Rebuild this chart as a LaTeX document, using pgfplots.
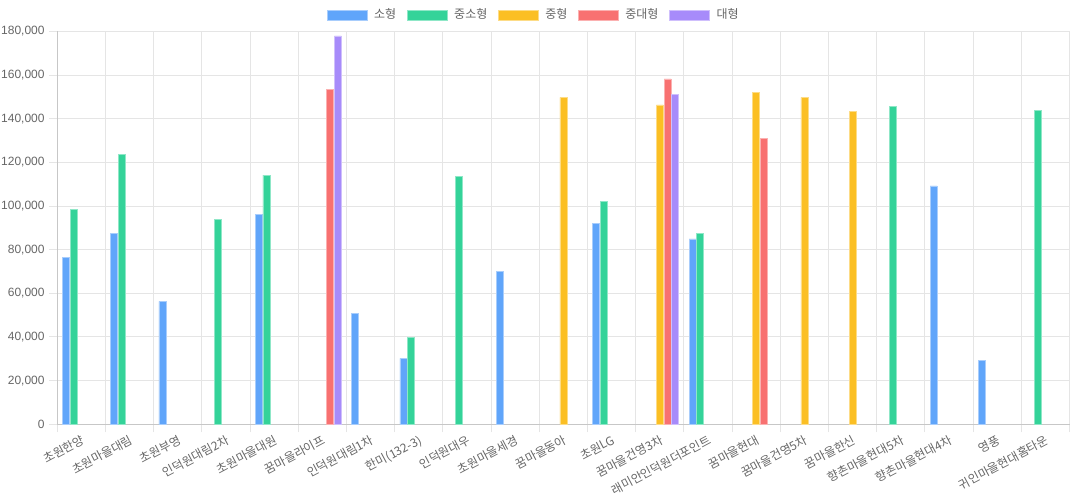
\documentclass[border=0pt]{standalone}
\usepackage{fontspec}
\setmainfont{Liberation Sans}
\newfontfamily\kr{Noto Sans CJK KR}
\usepackage{pgfplots}
\pgfplotsset{compat=1.18}
\definecolor{cBlue}{HTML}{60A5FA}
\definecolor{cGreen}{HTML}{34D399}
\definecolor{cYellow}{HTML}{FBBF24}
\definecolor{cRed}{HTML}{F87171}
\definecolor{cPurple}{HTML}{A78BFA}
\begin{document}
\begin{tikzpicture}
\begin{axis}[
  scale only axis, width=759.15pt, height=294.675pt,
  xmin=-0.5, xmax=20.5, ymin=0, ymax=180000,
  axis lines=left,
  axis line style={-, draw=black!22, line width=0.75pt},
  xtick={0,...,20},
  xticklabels={초원한양,초원마을대림,초원부영,인덕원대림2차,초원마을대원,꿈마을라이프,인덕원대림1차,한미(132-3),인덕원대우,초원마을세경,꿈마을동아,초원LG,꿈마을건영3차,래미안인덕원더포인트,꿈마을현대,꿈마을건영5차,꿈마을한신,향촌마을현대5차,향촌마을현대4차,영풍,귀인마을현대홈타운},
  minor xtick={-0.5,0.5,...,20.5},
  ytick={0,20000,...,180000},
  xminorgrids, ymajorgrids,
  grid style={draw=black!10, line width=0.75pt},
  minor grid style={draw=black!10, line width=0.75pt},
  major x tick style={draw=none},
  minor x tick style={draw=black!10, line width=0.75pt},
  major y tick style={draw=black!10, line width=0.75pt},
  tick align=outside, major tick length=6pt, minor tick length=6pt,
  xticklabel style={font=\kr\fontsize{9}{10}\selectfont, text=black!60, rotate=28, anchor=north east, inner sep=1pt},
  yticklabel style={font=\fontsize{9}{10}\selectfont, text=black!60},
  scaled y ticks=false,
  /pgf/number format/fixed,
  /pgf/number format/1000 sep={,},
  /pgf/number format/assume math mode=true,
  legend style={at={(0.471,1.042)}, anchor=center, draw=none, fill=none, legend columns=5,
    font=\kr\fontsize{9}{10}\selectfont, text=black!60, inner sep=0pt,
    /tikz/every odd column/.append style={column sep=3pt},
    /tikz/every even column/.append style={column sep=6pt}},
  legend image code/.code={\fill[#1] (0pt,-3.75pt) rectangle (30pt,3.75pt);},
]
\addplot[ybar, bar width=0.145, bar shift=-0.32, fill=cBlue, draw=cBlue!55!white, line width=0.5pt] coordinates {
 (0,76500) (1,87600) (2,56300) (4,96200) (6,50700) (7,30200) (9,69900) (11,92100) (13,84900) (18,109200) (19,29100)};
\addlegendentry{소형}
\addplot[ybar, bar width=0.145, bar shift=-0.16, fill=cGreen, draw=cGreen!55!white, line width=0.5pt] coordinates {
 (0,98300) (1,123700) (3,94000) (4,114200) (7,39700) (8,113700) (11,102200) (13,87500) (17,145700) (20,143700)};
\addlegendentry{중소형}
\addplot[ybar, bar width=0.145, bar shift=0, fill=cYellow, draw=cYellow!55!white, line width=0.5pt] coordinates {
 (10,149800) (12,146300) (14,151900) (15,149800) (16,143200)};
\addlegendentry{중형}
\addplot[ybar, bar width=0.145, bar shift=0.16, fill=cRed, draw=cRed!55!white, line width=0.5pt] coordinates {
 (5,153500) (12,158200) (14,130800)};
\addlegendentry{중대형}
\addplot[ybar, bar width=0.145, bar shift=0.32, fill=cPurple, draw=cPurple!55!white, line width=0.5pt] coordinates {
 (5,177900) (12,151200)};
\addlegendentry{대형}
\end{axis}
\pgfresetboundingbox
\path (-42.975pt,-56.775pt) rectangle (759.525pt,318.225pt);
\end{tikzpicture}
\end{document}
